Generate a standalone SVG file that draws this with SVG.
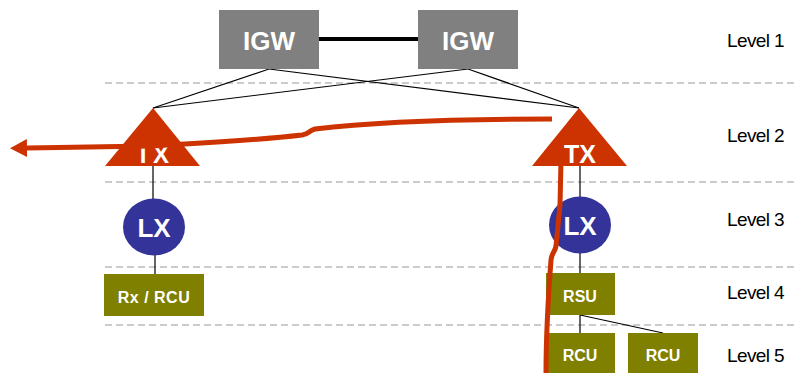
<svg xmlns="http://www.w3.org/2000/svg" width="797" height="373" viewBox="0 0 797 373">
  <style>
    .lvl { stroke: #BBBBBB; stroke-width: 1.5; stroke-dasharray: 7 4; fill: none; }
    .link { stroke: #000; stroke-width: 1.2; fill: none; }
    .igw { fill: #808080; }
    .tri { fill: #CC3300; }
    .lx { fill: #333399; }
    .box { fill: #808000; }
    .w { fill: #FFFFFF; font-family: "Liberation Sans", Arial, sans-serif; font-weight: bold; text-anchor: middle; }
    .lbl { fill: #000; font-family: "Liberation Sans", Arial, sans-serif; font-size: 19px; letter-spacing: -0.6px; }
    .route { stroke: #CC3300; stroke-width: 5; fill: none; stroke-linejoin: round; }
  </style>
  <defs>
    <marker id="arrowhead" markerWidth="17" markerHeight="18" refX="0" refY="9" orient="auto" markerUnits="userSpaceOnUse">
      <path d="M0,0 L17,9 L0,18 Z" fill="#CC3300"/>
    </marker>
  </defs>

  <!-- level separators -->
  <g id="separators">
    <line class="lvl" x1="105" y1="83" x2="797" y2="83"/>
    <line class="lvl" x1="105" y1="182" x2="797" y2="182"/>
    <line class="lvl" x1="105" y1="267" x2="797" y2="267"/>
    <line class="lvl" x1="105" y1="325" x2="797" y2="325"/>
  </g>

  <!-- connectors -->
  <g id="connectors">
    <line x1="319" y1="39" x2="418" y2="39" stroke="#000" stroke-width="4"/>
    <line class="link" x1="269" y1="69" x2="153" y2="108"/>
    <line class="link" x1="269" y1="69" x2="579" y2="108"/>
    <line class="link" x1="468" y1="69" x2="153" y2="108"/>
    <line class="link" x1="468" y1="69" x2="579" y2="108"/>
    <line class="link" x1="153" y1="166" x2="153" y2="199"/>
    <line class="link" x1="155" y1="255" x2="155" y2="274"/>
    <line class="link" x1="580" y1="166" x2="580" y2="197"/>
    <line class="link" x1="580" y1="253" x2="580" y2="273"/>
    <line class="link" x1="580" y1="315" x2="580" y2="333"/>
    <line class="link" x1="580" y1="315" x2="663" y2="333"/>
  </g>

  <!-- nodes -->
  <g id="igw-1">
    <rect class="igw" x="219" y="10" width="100" height="59"/>
    <text class="w" x="269" y="50" font-size="26">IGW</text>
  </g>
  <g id="igw-2">
    <rect class="igw" x="418" y="10" width="100" height="59"/>
    <text class="w" x="468" y="50" font-size="26">IGW</text>
  </g>
  <g id="ix">
    <polygon class="tri" points="153,108 200,166 105,166"/>
    <text class="w" x="143" y="163" font-size="24">I<tspan x="161">X</tspan></text>
  </g>
  <g id="tx">
    <polygon class="tri" points="579,108 627,166 532,166"/>
    <text class="w" x="580" y="163" font-size="25">TX</text>
  </g>
  <g id="lx-left">
    <ellipse class="lx" cx="154" cy="227" rx="31" ry="28.5"/>
    <text class="w" x="154" y="237" font-size="26">LX</text>
  </g>
  <g id="lx-right">
    <ellipse class="lx" cx="580" cy="225" rx="31" ry="28.5"/>
    <text class="w" x="580" y="235" font-size="26">LX</text>
  </g>
  <g id="rx-rcu">
    <rect class="box" x="104" y="274" width="100" height="42"/>
    <text class="w" x="154" y="303" font-size="16" letter-spacing="0.5">Rx / RCU</text>
  </g>
  <g id="rsu">
    <rect class="box" x="546" y="273" width="69" height="42"/>
    <text class="w" x="580" y="302" font-size="16">RSU</text>
  </g>
  <g id="rcu-1">
    <rect class="box" x="548" y="333" width="67" height="42"/>
    <text class="w" x="580" y="361" font-size="16">RCU</text>
  </g>
  <g id="rcu-2">
    <rect class="box" x="628" y="333" width="70" height="42"/>
    <text class="w" x="663" y="361" font-size="16">RCU</text>
  </g>

  <!-- traffic routes -->
  <g id="routes">
    <path class="route" marker-end="url(#arrowhead)" d="M552,119 C480,119 380,121 315,129 C308,131 309,134 302,135 C250,141 200,143 150,146 L27,148"/>
    <path class="route" d="M561,160 L560,205 L556,246 C555,252 552,252 551,260 C548,300 546,340 546,373"/>
  </g>

  <!-- level labels -->
  <g id="levels">
    <text class="lbl" x="727" y="47">Level 1</text>
    <text class="lbl" x="727" y="142">Level 2</text>
    <text class="lbl" x="727" y="226">Level 3</text>
    <text class="lbl" x="727" y="299">Level 4</text>
    <text class="lbl" x="727" y="362">Level 5</text>
  </g>
</svg>
